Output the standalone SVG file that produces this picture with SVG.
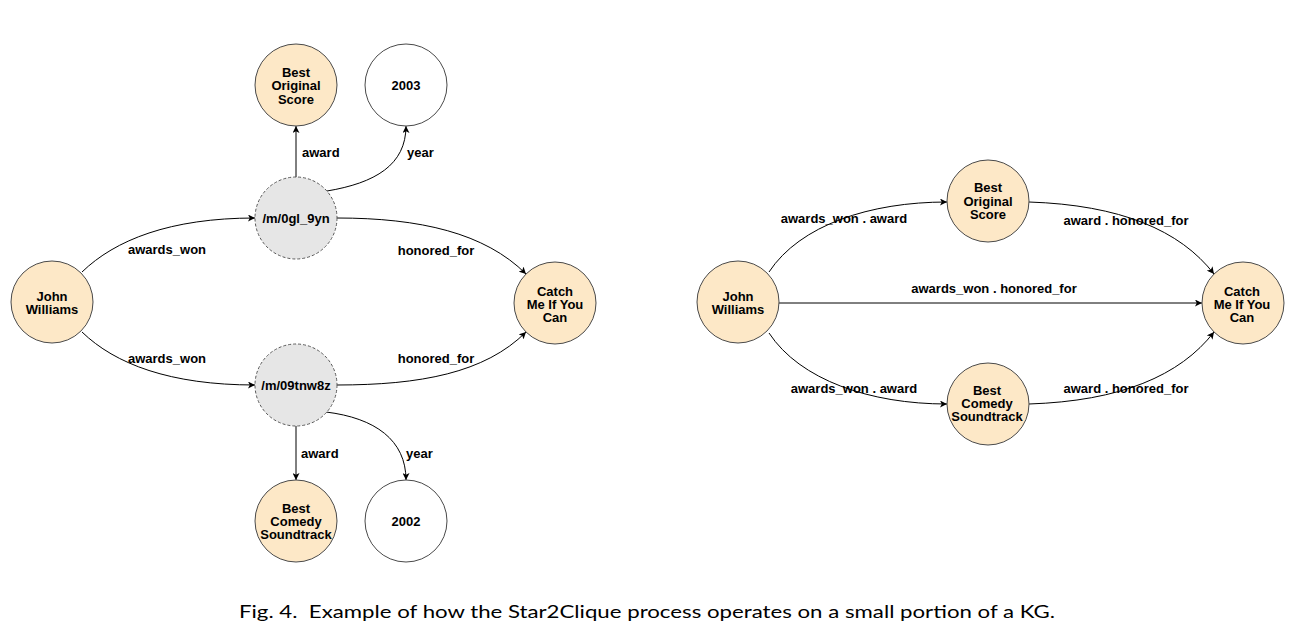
<svg xmlns="http://www.w3.org/2000/svg" width="1296" height="633" viewBox="0 0 1296 633">
<style>
.ent{fill:#fde8c7;stroke:#4a4a4a;stroke-width:1}
.lit{fill:#ffffff;stroke:#4a4a4a;stroke-width:1}
.cvt{fill:#e6e6e6;stroke:#5a5a5a;stroke-width:1;stroke-dasharray:3 2}
.nt{font-family:"Liberation Sans",Arial,sans-serif;font-weight:bold;font-size:13px;fill:#000;text-anchor:middle}
.el{font-family:"Liberation Sans",Arial,sans-serif;font-weight:bold;font-size:13px;fill:#000}
.mid{text-anchor:middle}
.e{fill:none;stroke:#000;stroke-width:1;marker-end:url(#arr)}
.cap{font-family:Lato,"Liberation Sans",sans-serif;font-size:18px;fill:#000;white-space:pre}
</style>
<defs>
<marker id="arr" viewBox="0 0 10 10" refX="10" refY="5" markerWidth="7" markerHeight="7" markerUnits="userSpaceOnUse" orient="auto">
<path d="M0,0 L10,5 L0,10 L2.5,5 z" fill="#000"/>
</marker>
</defs>
<rect width="1296" height="633" fill="#fff"/>
<g id="connectors">
<path class="e" d="M82,272 C115,240 170,218 255,218"/>
<path class="e" d="M82,332 C115,364 170,385 255,385"/>
<path class="e" d="M296,177 L296,126"/>
<path class="e" d="M327,191 C375,183 406,165 406,126"/>
<path class="e" d="M337,218 C420,218 485,233 526,274"/>
<path class="e" d="M337,385 C420,385 485,373 526,332"/>
<path class="e" d="M296,426 L296,480"/>
<path class="e" d="M326,412 C375,418 406,440 406,480"/>
<path class="e" d="M769,272 C800,225 870,202 947,202"/>
<path class="e" d="M1029,202 C1120,205 1180,230 1214,274"/>
<path class="e" d="M779,303 L1202,303"/>
<path class="e" d="M769,333 C800,380 870,404 947,404"/>
<path class="e" d="M1029,404 C1120,401 1180,376 1214,332"/>
</g>
<g id="edge-labels">
<text class="el mid" x="167" y="253.5">awards_won</text>
<text class="el mid" x="167" y="362.5">awards_won</text>
<text class="el" x="302" y="156.5">award</text>
<text class="el" x="407" y="156.5">year</text>
<text class="el mid" x="436" y="254.5">honored_for</text>
<text class="el mid" x="436" y="362.5">honored_for</text>
<text class="el" x="301" y="457.5">award</text>
<text class="el" x="406" y="457.5">year</text>
<text class="el mid" x="844" y="222.5">awards_won . award</text>
<text class="el mid" x="1126" y="224.5">award . honored_for</text>
<text class="el mid" x="994" y="292.5">awards_won . honored_for</text>
<text class="el mid" x="854" y="392.5">awards_won . award</text>
<text class="el mid" x="1126" y="392.5">award . honored_for</text>
</g>
<g id="l-john">
<circle class="ent" cx="52" cy="302" r="41"/>
<text class="nt" x="52" y="301">John</text>
<text class="nt" x="52" y="314">Williams</text>
</g>
<g id="l-m0gl">
<circle class="cvt" cx="296" cy="218" r="41"/>
<text class="nt" x="296" y="222.5">/m/0gl_9yn</text>
</g>
<g id="l-bos">
<circle class="ent" cx="296" cy="85" r="41"/>
<text class="nt" x="296" y="77">Best</text>
<text class="nt" x="296" y="90">Original</text>
<text class="nt" x="296" y="103.5">Score</text>
</g>
<g id="l-2003">
<circle class="lit" cx="406" cy="85" r="41"/>
<text class="nt" x="406" y="90">2003</text>
</g>
<g id="l-catch">
<circle class="ent" cx="555" cy="303" r="41"/>
<text class="nt" x="555" y="295.5">Catch</text>
<text class="nt" x="555" y="308.5">Me If You</text>
<text class="nt" x="555" y="322">Can</text>
</g>
<g id="l-m09">
<circle class="cvt" cx="296" cy="385" r="41"/>
<text class="nt" x="296" y="389.5">/m/09tnw8z</text>
</g>
<g id="l-bcs">
<circle class="ent" cx="296" cy="521" r="41"/>
<text class="nt" x="296" y="512.5">Best</text>
<text class="nt" x="296" y="525.5">Comedy</text>
<text class="nt" x="296" y="539">Soundtrack</text>
</g>
<g id="l-2002">
<circle class="lit" cx="406" cy="521" r="41"/>
<text class="nt" x="406" y="526">2002</text>
</g>
<g id="r-john">
<circle class="ent" cx="738" cy="302" r="41"/>
<text class="nt" x="738" y="301">John</text>
<text class="nt" x="738" y="314">Williams</text>
</g>
<g id="r-bos">
<circle class="ent" cx="988" cy="201" r="41"/>
<text class="nt" x="988" y="192">Best</text>
<text class="nt" x="988" y="205.5">Original</text>
<text class="nt" x="988" y="219">Score</text>
</g>
<g id="r-catch">
<circle class="ent" cx="1243" cy="303" r="41"/>
<text class="nt" x="1242" y="295.5">Catch</text>
<text class="nt" x="1242" y="308.5">Me If You</text>
<text class="nt" x="1242" y="322">Can</text>
</g>
<g id="r-bcs">
<circle class="ent" cx="988" cy="404" r="41"/>
<text class="nt" x="987" y="394.5">Best</text>
<text class="nt" x="987" y="407.5">Comedy</text>
<text class="nt" x="987" y="421">Soundtrack</text>
</g>
<text class="cap" x="239" y="618" textLength="816" lengthAdjust="spacingAndGlyphs" xml:space="preserve">Fig. 4.  Example of how the Star2Clique process operates on a small portion of a KG.</text>
</svg>
